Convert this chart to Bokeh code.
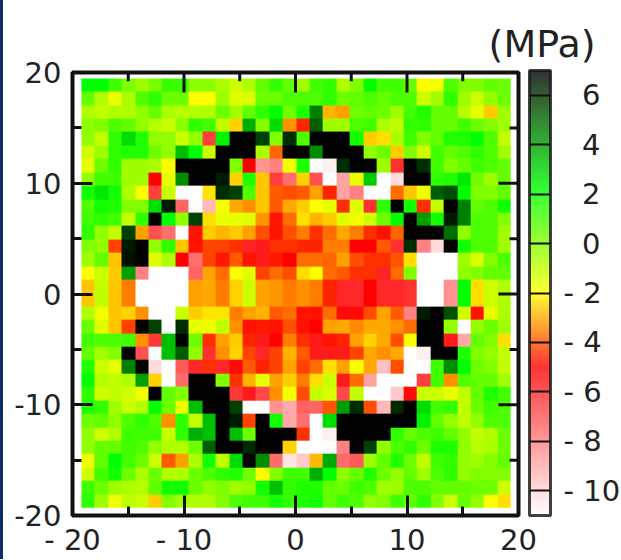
from bokeh.embed import file_html
from bokeh.resources import INLINE
from bokeh.plotting import figure
from bokeh.models import (AllLabels, ColorBar, FixedTicker, LinearAxis, LinearColorMapper, Title)
import numpy as np

row_00 = [2.2,2.2,1.2,.2,-.4,.2,1.3,1.3,-.1,-.1,-.6,-1.2,-.6,.6,1.4,.6,-.4,1.1,1.4,-.7,.1,2.2,1.1,1.1,.6,-2,-1.8,.9,.1,.1,.6,.4]
row_01 = [.6,-.7,-1.7,-.6,.9,1.4,.4,.4,-2,-2,-.4,-1.5,-1.4,.4,.4,.9,.9,.9,1.4,.4,.6,.9,.6,.9,.9,-1.2,-.4,1.4,-.4,-1.1,-.2,.4]
row_02 = [-.7,-1,-.7,-.7,-.2,.6,-.6,-.8,-.8,-.7,.4,-.4,.6,1.4,2.2,.4,1.7,4.6,-2.9,-3.1,.4,.6,.4,-.4,1.1,1.7,.6,.6,-.8,-1.6,-2.6,-.4]
row_03 = [-.1,.1,.9,.6,-.2,-.8,-1.1,-.1,1.4,1.1,-1,-2.5,3.7,.1,2.8,-3.3,-4.6,5.2,-.4,-.4,.9,1.1,-.7,-1,1.4,1.4,.6,.6,1.1,.4,.1,-.4]
row_04 = [-.2,-1,1.4,2.8,1.7,-.2,-.2,-1.1,-.2,-6.5,2.4,7,7,5.8,.1,6.1,.9,7,7,7,1.9,-2.6,-2.4,-.6,1.1,.1,.6,1.7,1.7,2.2,.9,-1]
row_05 = [-1.2,-.4,1.4,1.7,1.7,.4,-.2,3.4,2.2,-1.1,7,7,7,-.6,-3.8,7,7,4.3,7,7,7,-.2,.4,-2.6,.1,-1.2,1.1,.6,.9,1.4,.9,-.4]
row_06 = [-1.6,.4,1.4,-.4,-.4,-.6,-2,7,7,7,7,.1,-5,-8.4,-8,-1.8,1.7,-11,-10.6,6.1,7,7,-.4,-6.1,7,6.1,1.1,.1,.6,1.1,.9,.6]
row_07 = [-.2,1.1,1.1,-.4,-.4,-5,-1.6,4.3,7,7,6.5,-2.5,1.7,-2.7,-6.5,-7.6,-2.5,-6.9,-11,-8.8,-1.6,3.2,-11,-10.1,7,7,1.4,1.7,2.6,.4,-.4,.6]
row_08 = [1.9,2.6,1.9,-.7,-2,-6.5,-1.1,-11,-11,-2.3,6.1,5.8,.9,-2.7,-3.9,-4.1,-3.9,-3.1,-4.6,-8.8,-8,-11,-11,-3.7,-2.7,-1.75,5.2,5.5,2.2,.1,.1,.6]
row_09 = [.9,1.9,1.7,.1,.1,2.8,6.5,-7.4,-11,-9.3,-1.9,-3,-3.3,-2.7,-3.9,-3,-2.6,-2,-1.6,-4.4,-1.5,-6.1,1.4,7,1.9,-4.4,-1,7,4.6,.6,.9,1.9]
row_10 = [1.1,1.4,1.1,-1,1.4,7,2.2,-.2,5.8,-2.4,-1.6,-1.6,-1.5,-3.2,-4.8,-3.7,-2.4,-2.9,-2.6,-1.5,-1.75,-1.2,.4,2.2,7,4,1.9,6.5,4.6,.9,.9,.1]
row_11 = [1.4,-.2,-1,5.8,-3.1,-6.9,-7.6,-11,-4.8,-2.6,-2.9,-2.6,-3.1,-4.1,-4.8,-4.1,-3.5,-4.4,-3.7,-3,-3.5,-4.4,-4.8,-3.8,7,7,7,4.9,-.2,.9,.9,-.4]
row_12 = [.1,-.2,-4.2,6.5,7,-.2,1.4,-2.7,-4.8,-4.2,-4.2,-4.4,-5.8,-5.6,-4.4,-4.4,-4.6,-4.6,-3.5,-3.5,-5,-5,-3.9,-6.1,6.1,-8,-10.1,7,1.9,.9,.9,-.4]
row_13 = [-.4,.6,-2.7,6.7,7,-1.5,-.7,-5,-7.6,-4.2,-4.7,-3.9,-4.8,-5.6,-4.7,-5,-3.7,-3.7,-3.8,-3.1,-4.1,-4.4,-4.4,-4,-2.4,-11,-11,-11,-.4,-1.4,.1,.9]
row_14 = [-2,-1.1,-2.6,4,-8,-11,-11,-11,-7.3,-3.1,-3.7,-2,-1.5,-4.2,-3.7,-4.1,-2.4,-2,-3.7,-3.9,-4.4,-4.4,-5.8,-3.7,.1,-11,-11,-11,-.2,.1,.6,.6]
row_15 = [-2.7,-1,-2.7,-3.5,-11,-11,-11,-11,-3.1,-3,-3.5,-2.5,-1.2,-3.1,-3.2,-3.5,-3.3,-3.5,-4.6,-5.9,-5.9,-5,-5.9,-5.9,-6.1,-11,-11,-8.4,2.2,-2.4,-1.2,-.7]
row_16 = [-.7,-1.75,-2.7,-2.5,-3.3,-11,-11,-1.1,-2.6,-2.3,-2.3,-3.5,-3.1,-2.9,-3.9,-3.7,-4.8,-4.8,-3.7,-5.2,-5.2,-4.1,-3.1,-3.9,-8,6.5,7,5.5,-1.2,-4.8,-1.6,-.6]
row_17 = [.4,-1.5,-2.7,-4.2,7,5.8,-11,6.1,-1.6,-1.75,-1,-3.3,-4.8,-4.7,-4.8,-4.1,-4.8,-5,-3.1,-3,-3.4,-3,-3,-3.3,-3.7,7,7,-.2,-11,-.2,.4,-.4]
row_18 = [1.1,.9,.9,1.1,-3.3,-6.3,3.4,7,.4,-4.4,-3.1,-2.6,-4.6,-5.6,-5,-3.5,-4.4,-5.6,-4.8,-4.6,-3.1,-2.5,-3,-4.1,-1.9,7,7,-5.6,-8.9,.6,.1,-2.4]
row_19 = [.6,-.4,.1,7,-6.9,-11,3.4,5.2,-.2,-6.1,-3.3,-2.5,-4.2,-5.9,-4.2,-2.9,-3.9,-5.6,-5.6,-5.6,-4.2,-3,-3.3,-3,-11,-10.6,7,7,1.7,.1,-.2,-1]
row_20 = [1.7,-1.1,-1.6,4.6,7,-10.1,-11,-7.1,-5.9,-4.4,-5.9,-5.2,-3.9,-4.6,-4.2,-3.1,-4.2,-3.7,-2.4,-3.1,-2,-3,-9.5,-4.1,-11,-11,1.1,4.3,2.2,.4,.1,-1]
row_21 = [2.2,-.8,-1,-.7,4,-2.5,-11,-7.5,7,7,.1,-4.4,-2.9,-1.6,-3.1,-2.6,-3.5,-2.4,-1.1,-5.6,-3.7,-8.8,-11,-11,-11,-6.5,1.1,-3.3,.9,.6,.6,-.4]
row_22 = [1.4,-1.2,-1,-1.2,-1.75,7,.6,.1,7,7,7,-6.3,-5.6,-6.7,-3.3,-1.8,-4.1,-1,-1.4,-6.7,-1,-11,-11,-9.7,-5.2,-1.1,-1.2,-1.6,-1,.6,1.7,1.1]
row_23 = [1.7,1.4,-.4,-1.1,-.7,2.2,.4,-1.75,3.4,7,7,5.8,-11,-11,-8.4,-9,-7.3,-7.3,-4,4,6.1,-4.1,-9.3,6.2,7,2.8,1.1,1.4,-1,.4,1.1,.9]
row_24 = [.4,.6,-.2,.9,1.4,.9,-3.3,1.4,-1,3.4,7,6.5,-4.2,7,1.9,-8.9,-7.6,-11,2.8,7,7,7,7,7,7,2.4,.6,-.2,-1,-.2,.9,.9]
row_25 = [-.2,-1.2,-.7,1.1,1.1,1.1,-1.1,1.4,3.7,3.4,7,3.4,.4,7,7,7,-4.4,-11,-10.6,7,7,7,7,1.4,.6,.9,1.1,.6,-.2,-1,-.7,.4]
row_26 = [-.2,.6,.6,1.1,.9,-.2,-.7,-.8,.4,5.2,7,7,6.2,7,7,-2.5,-11,-11,-11,-8,7,5.8,-.2,.9,1.4,.4,1.7,1.7,-.2,-.8,-.6,.4]
row_27 = [-1.75,.6,2.2,1.1,.4,-1.1,-3.9,-3.1,-.6,1.9,-1,2.8,7,4.3,-7.5,-10.3,-9.7,-2.8,3.8,-7.5,-7.1,-.4,.6,1.7,.4,-1,1.1,1.4,-.2,-.4,.1,.6]
row_28 = [-1.2,1.1,1.9,.4,-.6,.4,-.7,-.7,.4,.9,1.4,1.7,.4,-2,.1,1.1,1.1,3.7,2.2,-.2,.6,1.7,.4,-.2,.6,-.4,.9,1.4,-.2,.1,.1,.1]
row_29 = [1.1,.4,-.4,-.7,-.8,.6,1.9,1.9,.4,-.2,.1,-.4,-.2,1.9,3.4,1.4,1.7,1.7,.6,.4,1.1,.9,-.4,-.4,.9,.9,.6,.6,.6,.4,.4,-1.2]
row_30 = [1.4,-.4,-1.75,-1,-1.1,-2.6,.1,-.4,-.7,-.7,.1,.9,1.1,1.1,1.9,1.4,1.7,1.9,.6,1.1,.9,-.2,.1,1.1,.6,1.4,.1,-1.1,.6,-.2,-2,-2.4]

# top to bottom; the central row is twice as tall in the reference, so it appears twice
rows = [row_00,row_01,row_02,row_03,row_04,row_05,row_06,row_07,row_08,row_09,row_10,
        row_11,row_12,row_13,row_14,row_15,row_15,row_16,row_17,row_18,row_19,row_20,
        row_21,row_22,row_23,row_24,row_25,row_26,row_27,row_28,row_29,row_30]

axis_ticks = [-20, -10, 0, 10, 20]
minor_ticks = [-15, -5, 5, 15]
x_tick_labels = {-20: "- 20", -10: "- 10", 0: "0", 10: "10", 20: "20"}
y_tick_labels = {-20: "-20", -10: "-10", 0: "0", 10: "10", 20: "20"}
bar_ticks = [6, 4, 2, 0, -2, -4, -6, -8, -10]
NB = "\u00a0\u00a0"
bar_labels = {6: NB+"6", 4: NB+"4", 2: NB+"2", 0: NB+"0", -2: "- 2", -4: "- 4", -6: "- 6", -8: "- 8", -10: "- 10"}
unit_label = "(MPa)"

# palette stops: value, r, g, b
stops = [(-11,255,255,255),(-5,255,0,0),(-2,255,255,0),(2.2,0,255,0),(7,0,0,0)]
sv = [s[0] for s in stops]
grid = np.linspace(-11, 7, 256)
palette = ["#%02x%02x%02x" % tuple(int(round(np.interp(g, sv, [s[i] for s in stops]))) for i in (1,2,3)) for g in grid]
mapper = LinearColorMapper(palette=palette, low=-11, high=7)

FONT = "DejaVu Sans"
FS = "29px"
INK = "#222222"

p = figure(width=618, height=560, frame_width=446, frame_height=443, x_range=(-20, 20), y_range=(-20, 20),
           output_backend="svg", toolbar_location=None, min_border_left=69, min_border_top=72,
           min_border_right=0, min_border_bottom=0, x_axis_type=None, y_axis_type=None)
p.styles = {"border-left": "3px solid #0a2a6e"}
p.xgrid.visible = False
p.ygrid.visible = False
p.outline_line_color = "#111111"
p.outline_line_width = 4

data = np.array(rows, dtype=float)[::-1]
p.image(image=[data], x=-19.2, y=-19.3, dw=38.5, dh=38.75, color_mapper=mapper)

def style(ax, labels):
    ax.ticker = FixedTicker(ticks=axis_ticks, minor_ticks=minor_ticks)
    ax.axis_line_color = "#111111"
    ax.axis_line_width = 2
    ax.major_tick_in = 20
    ax.major_tick_out = 0
    ax.minor_tick_in = 9
    ax.minor_tick_out = 0
    ax.major_tick_line_color = "#111111"
    ax.major_tick_line_width = 3
    ax.minor_tick_line_color = "#111111"
    ax.minor_tick_line_width = 3
    ax.major_label_text_font = FONT
    ax.major_label_text_font_size = FS
    ax.major_label_text_color = INK
    ax.major_label_overrides = labels

left = LinearAxis(); style(left, y_tick_labels); left.major_label_standoff = 11
bottom = LinearAxis(); style(bottom, x_tick_labels); bottom.major_label_standoff = 7
p.add_layout(left, "left")
p.add_layout(bottom, "below")

# mirrored ticks on the top and right sides of the frame
TICK_MAJOR = 1.8
TICK_MINOR = 0.8
for ticks, ln in ((axis_ticks, TICK_MAJOR), (minor_ticks, TICK_MINOR)):
    p.segment(x0=ticks, y0=[20]*len(ticks), x1=ticks, y1=[20-ln]*len(ticks), line_color="#111111", line_width=3)
    p.segment(x0=[20]*len(ticks), y0=ticks, x1=[20-ln]*len(ticks), y1=ticks, line_color="#111111", line_width=3)

cb = ColorBar(color_mapper=mapper, ticker=FixedTicker(ticks=bar_ticks), major_label_overrides=bar_labels,
              major_label_policy=AllLabels(),
              width=21, height=445, padding=0, margin=0, location=(11, 0), scale_alpha=0.8,
              bar_line_color="#111111", bar_line_width=3, border_line_color=None,
              major_tick_in=21, major_tick_out=0, major_tick_line_color="#111111", major_tick_line_width=2,
              minor_tick_line_color=None, label_standoff=13, background_fill_color=None,
              major_label_text_font=FONT, major_label_text_font_size=FS, major_label_text_color=INK)
p.add_layout(cb, "right")

p.add_layout(Title(text=unit_label, align="right", offset=-77, standoff=14, text_font=FONT,
                   text_font_size="38px", text_font_style="normal", text_color=INK), "above")

open("out.html", "w").write(file_html(p, INLINE))
